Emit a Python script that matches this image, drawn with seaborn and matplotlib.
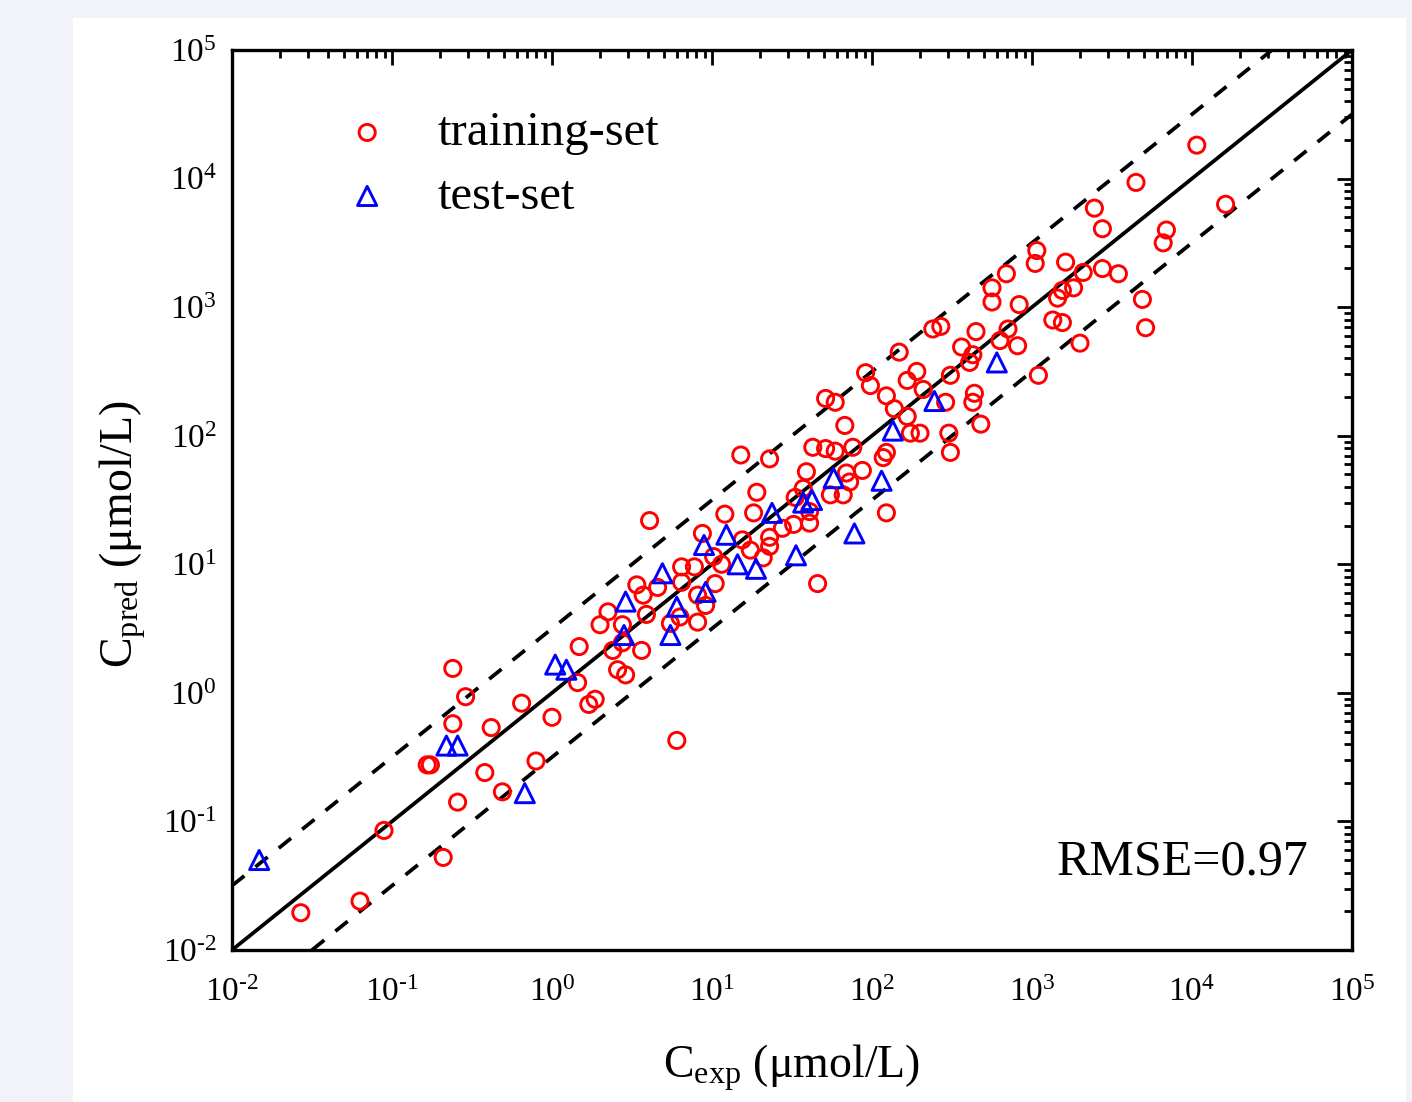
import numpy as np
import pandas as pd
import matplotlib
matplotlib.use("Agg")
import matplotlib.pyplot as plt
import matplotlib.ticker as mticker
from matplotlib.patches import Rectangle
import seaborn as sns

# ---- data (log10 of concentrations) ----
train_log_exp = [4.03, 3.65, 4.21, 3.39, 3.44, 3.84, 3.82, 3.03, 3.02, 3.21, 3.32, 3.44, 3.54, 2.84,
                 2.75, 2.75, 2.92, 3.19, 3.26, 3.16, 3.69, 3.13, 3.19, 3.71, 2.85, 2.80, 2.91, 3.30,
                 3.04, 2.38, 2.43, 2.65, 2.56, 2.63, 2.61, 2.17, 1.96, 1.99, 2.28, 2.22, 2.32, 2.49,
                 2.09, 2.14, 2.22, 2.46, 2.64, 2.63, 2.68, 1.71, 1.77, 1.83, 2.24, 2.30, 2.48, 2.49,
                 1.63, 1.71, 1.77, 1.88, 2.09, 2.07, 1.59, 1.84, 1.94, 1.86, 1.82, 1.74, 1.57, 1.52,
                 1.61, 1.51, 1.44, 1.61, 2.09, 1.66, 1.18, 1.36, 1.28, 1.26, 1.08, 0.61, 1.36, 0.94,
                 1.36, 1.24, 1.19, 1.32, 1.06, 1.01, 0.89, 0.81, 0.53, 0.57, 0.81, 1.02, 0.91, 0.96,
                 0.80, 0.91, 0.74, 0.35, 0.30, 0.44, 0.59, 0.44, 0.38, 0.56, 0.17, 0.41, 0.46, 0.16,
                 0.27, 0.23, 0.66, 0.78, -0.62, -0.54, -0.62, -0.38, -0.19, 0.00, -0.78, -0.76, -0.42,
                 -0.10, -0.31, -0.59, -1.05, -0.68, -1.20, -1.57]
train_log_pred = [4.26, 3.97, 3.80, 3.77, 3.61, 3.60, 3.50, 3.44, 3.34, 3.35, 3.27, 3.30, 3.26, 3.26,
                  3.15, 3.04, 3.02, 3.13, 3.15, 3.07, 3.06, 2.90, 2.88, 2.84, 2.83, 2.74, 2.70, 2.72,
                  2.47, 2.83, 2.85, 2.81, 2.69, 2.63, 2.57, 2.65, 2.49, 2.39, 2.50, 2.43, 2.36, 2.47,
                  2.31, 2.21, 2.15, 2.26, 2.33, 2.26, 2.09, 2.29, 2.26, 2.08, 2.02, 2.02, 2.02, 1.87,
                  1.91, 1.90, 1.88, 1.91, 1.87, 1.83, 1.72, 1.71, 1.73, 1.64, 1.54, 1.54, 1.59, 1.52,
                  1.41, 1.31, 1.28, 1.32, 1.40, 0.85, 1.85, 1.82, 1.56, 1.40, 1.39, 1.34, 1.21, 1.24,
                  1.14, 1.11, 1.19, 1.05, 1.00, 1.06, 0.98, 0.98, 0.84, 0.76, 0.86, 0.85, 0.76, 0.68,
                  0.59, 0.55, 0.54, 0.63, 0.53, 0.53, 0.61, 0.39, 0.33, 0.33, 0.36, 0.18, 0.14, 0.08,
                  -0.05, -0.09, 0.82, -0.37, 0.19, -0.03, -0.24, -0.27, -0.08, -0.19, -0.56, -0.56, -0.62,
                  -0.53, -0.77, -0.85, -1.07, -1.28, -1.62, -1.71]
test_log_exp = [-1.83, -0.66, -0.59, -0.17, 0.02, 0.09, 0.46, 0.45, 0.69, 0.74, 0.78, 0.95, 0.96,
                1.09, 1.16, 1.275, 1.375, 1.525, 1.57, 1.625, 1.76, 1.89, 2.06, 2.13, 2.39, 2.78]
test_log_pred = [-1.30, -0.41, -0.41, -0.78, 0.22, 0.18, 0.71, 0.45, 0.93, 0.45, 0.67, 1.15, 0.785,
                 1.23, 1.00, 0.965, 1.40, 1.07, 1.48, 1.50, 1.67, 1.24, 1.65, 2.04, 2.27, 2.57]
set_labels = ["training-set", "test-set"]
rmse_text = "RMSE=0.97"
band = 0.5  # half-width of the dashed band, log10 units
axis_min, axis_max = 1e-2, 1e5

train = pd.DataFrame({"exp": np.power(10.0, train_log_exp), "pred": np.power(10.0, train_log_pred)})
test = pd.DataFrame({"exp": np.power(10.0, test_log_exp), "pred": np.power(10.0, test_log_pred)})

# ---- style ----
sns.set_style("white")
plt.rcParams["font.family"] = ["Liberation Serif", "DejaVu Serif"]
plt.rcParams["mathtext.fontset"] = "custom"
plt.rcParams["mathtext.rm"] = "Liberation Serif"
plt.rcParams["mathtext.it"] = "Liberation Serif:italic"
plt.rcParams["mathtext.bf"] = "Liberation Serif:bold"
for key in ("text.color", "axes.labelcolor", "xtick.color", "ytick.color", "axes.edgecolor"):
    plt.rcParams[key] = "black"


def decade_label(value, pos):
    exponent = int(round(np.log10(value)))
    exp_txt = str(exponent).replace("-", "\u2010")
    return r"$\mathdefault{10^{%s}}$" % exp_txt


fig = plt.figure(figsize=(14.12, 11.02), dpi=100)
fig.patch.set_facecolor("#f1f3f9")
panel = Rectangle((73 / 1412, 0), (1406 - 73) / 1412, 1084 / 1102,
                  transform=fig.transFigure, facecolor="white", edgecolor="none", zorder=-10)
fig.add_artist(panel)
ax = fig.add_axes([232 / 1412, 1 - 950 / 1102, 1120 / 1412, 900 / 1102])
ax.set_zorder(1)
ax.set_facecolor("white")

ax.set_xscale("log")
ax.set_yscale("log")
ax.set_xlim(axis_min, axis_max)
ax.set_ylim(axis_min, axis_max)

# reference lines
ax.axline((axis_min, axis_min), (axis_max, axis_max), color="black", lw=2.7, zorder=1)
for sgn in (1, -1):
    f = 10 ** (sgn * band)
    ax.axline((axis_min, axis_min * f), (axis_max, axis_max * f), color="black", lw=2.7,
              linestyle=(0, (4.2, 3.8)), zorder=1)

sns.scatterplot(data=train, x="exp", y="pred", ax=ax, marker="o", s=135,
                facecolors="none", edgecolor="#ff0000", linewidth=2.1, label=set_labels[0], zorder=3)
sns.scatterplot(data=test, x="exp", y="pred", ax=ax, marker="^", s=190,
                facecolors="none", edgecolor="#0000ff", linewidth=2.1, label=set_labels[1], zorder=4)

# ticks
for axis in (ax.xaxis, ax.yaxis):
    axis.set_major_locator(mticker.LogLocator(base=10, numticks=20))
    axis.set_minor_locator(mticker.LogLocator(base=10, subs=np.arange(2, 10), numticks=20))
    axis.set_major_formatter(mticker.FuncFormatter(decade_label))
    axis.set_minor_formatter(mticker.NullFormatter())
ax.tick_params(which="both", direction="in", top=True, right=True, color="black", width=2.0)
ax.tick_params(which="major", length=11, labelsize=24)
ax.tick_params(which="minor", length=6)
ax.tick_params(axis="x", which="major", pad=20)
ax.tick_params(axis="y", which="major", pad=11)
for sp in ax.spines.values():
    sp.set_linewidth(2.4)
    sp.set_color("black")

ax.set_xlabel(r"$\mathrm{C}_{\mathrm{exp}}$ (μmol/L)", fontsize=33)
ax.set_ylabel(r"$\mathrm{C}_{\mathrm{pred}}$ (μmol/L)", fontsize=33)
ax.xaxis.set_label_coords(0.5, -0.103)
ax.yaxis.set_label_coords(-0.075, 0.462)

ax.text(0.961, 0.098, rmse_text, transform=ax.transAxes, ha="right", va="center", fontsize=36)

leg = ax.legend(loc="upper left", bbox_to_anchor=(0.099, 0.932), frameon=False, fontsize=35,
                handlelength=1.0, handletextpad=0.95, labelspacing=0.4, borderpad=0, borderaxespad=0)

fig.savefig("out.png", dpi=100, facecolor=fig.get_facecolor())
